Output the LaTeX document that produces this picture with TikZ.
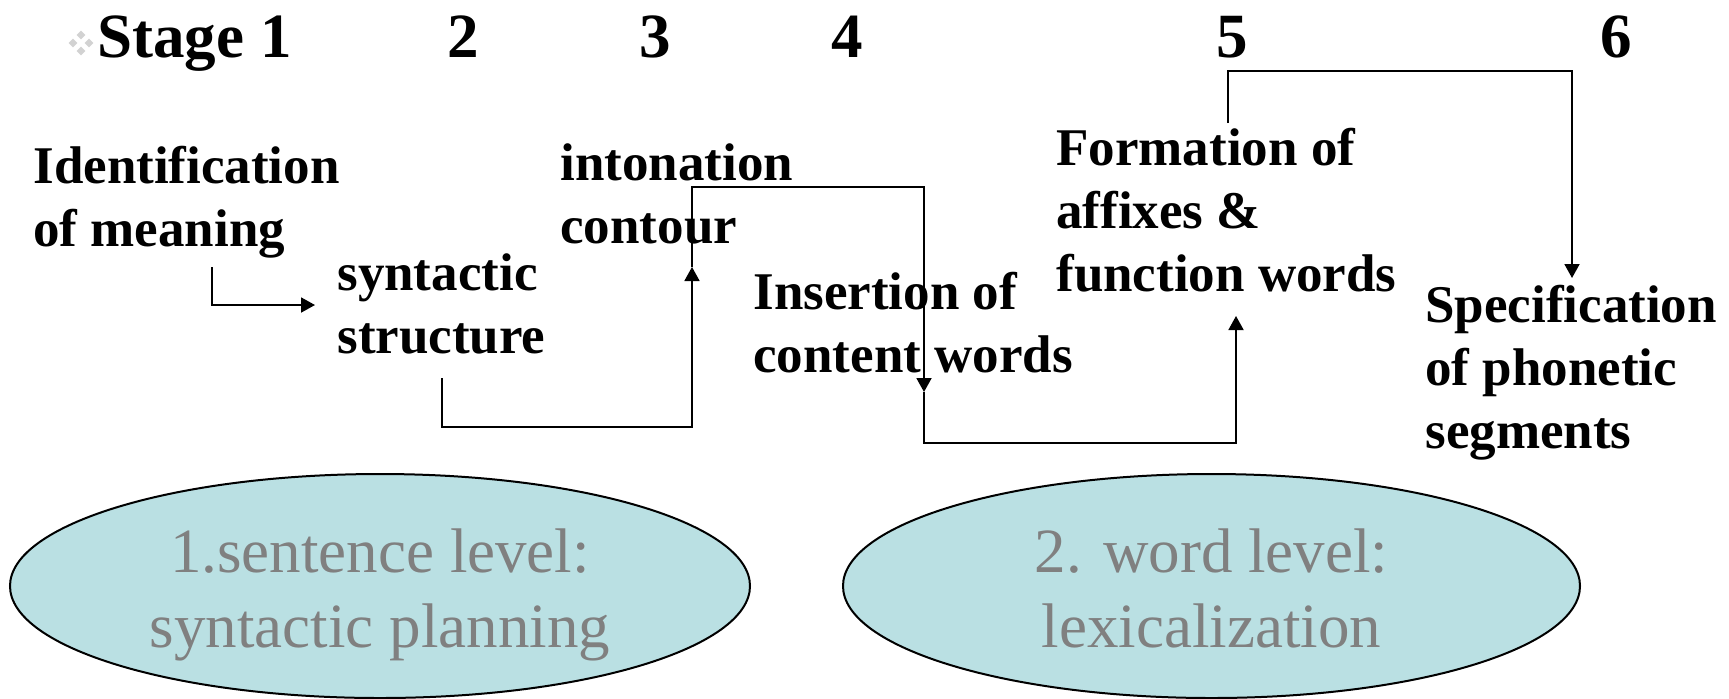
\documentclass[tikz,border=0pt]{standalone}
\usepackage{fontspec}
\setmainfont{Liberation Serif}
\usetikzlibrary{arrows.meta,shapes.geometric}
\definecolor{lvlfill}{RGB}{186,224,227}
\definecolor{lvlgray}{RGB}{128,128,128}
\definecolor{bulletgray}{RGB}{210,210,210}
\begin{document}
\begin{tikzpicture}[x=0.5pt,y=-0.5pt,
  stagelbl/.style={font=\fontsize{31.5}{37}\selectfont\bfseries, inner sep=0, anchor=base},
  steptxt/.style={font=\fontsize{26.5}{31.5}\selectfont\bfseries, inner sep=0, anchor=base west, align=left},
  conn/.style={line width=0.9pt, -{Triangle[length=7pt,width=7.5pt]}},
  lvlellipse/.style={ellipse, draw, line width=1pt, fill=lvlfill, minimum height=112pt, inner sep=0},
  leveltext/.style={font=\fontsize{31.5}{37.5}\selectfont, text=lvlgray, align=center, inner sep=0, anchor=base},
  bulletdia/.style={diamond, fill=bulletgray, inner sep=0, minimum size=4.5pt}
]
\useasboundingbox (0,0) rectangle (1729,698);

% bullet
\node[bulletdia] (b1) at (81,35) {};
\node[bulletdia] (b2) at (73,43) {};
\node[bulletdia] (b3) at (89,43) {};
\node[bulletdia] (b4) at (81,51) {};

% stage labels
\node[stagelbl, anchor=base west] (s1) at (97,57) {Stage 1};
\node[stagelbl] (s2) at (463,57) {2};
\node[stagelbl] (s3) at (655,57) {3};
\node[stagelbl] (s4) at (847,57) {4};
\node[stagelbl] (s5) at (1232,57) {5};
\node[stagelbl] (s6) at (1616,57) {6};

% step texts (anchor = baseline of last line)
\node[steptxt] (idm) at (33,246) {Identification\\of meaning};
\node[steptxt] (syn) at (337,353) {syntactic\\structure};
\node[steptxt] (int) at (560,243) {intonation\\contour};
\node[steptxt] (ins) at (753,372) {Insertion of\\content words};
\node[steptxt] (frm) at (1056,291) {Formation of\\affixes \&\\function words};
\node[steptxt] (spc) at (1425,448) {Specification\\of phonetic\\segments};

% connector points
\coordinate (a1) at (212,267);
\coordinate (a2) at (315,305);
\coordinate (b0) at (442,378);
\coordinate (bt) at (692,267);
\coordinate (ct) at (924,392);
\coordinate (cb) at (924,187);
\coordinate (dt) at (1236,316);
\coordinate (db) at (1236,443);
\coordinate (e0) at (1228,123);
\coordinate (et) at (1572,278);
\coordinate (eb) at (1572,71);

\draw[conn] (a1) |- (a2);
\draw[conn] (b0) -- (442,427) -| (bt);
\draw[conn] (bt) |- (cb) -- (ct);
\draw[conn] (ct) |- (db) -- (dt);
\draw[conn] (e0) |- (eb) -- (et);

% level ellipses
\node[lvlellipse, minimum width=370pt] (e1) at (380,586) {};
\node[leveltext] (t1) at (380,647) {1.sentence level:\\syntactic planning};
\node[lvlellipse, minimum width=368.5pt] (e2) at (1211.5,586) {};
\node[leveltext] (t2) at (1211.5,647) {2. word level:\\lexicalization};
\end{tikzpicture}
\end{document}
